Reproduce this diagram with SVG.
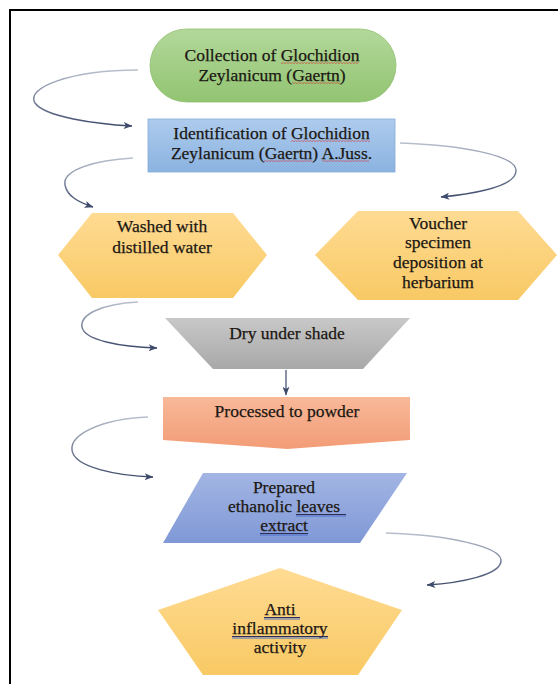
<svg xmlns="http://www.w3.org/2000/svg" width="558" height="684" viewBox="0 0 558 684">
<defs>
  <linearGradient id="gGreen" x1="0" y1="0" x2="0" y2="1"><stop offset="0" stop-color="#b3d89a"/><stop offset="1" stop-color="#92c472"/></linearGradient>
  <linearGradient id="gBlue" x1="0" y1="0" x2="0" y2="1"><stop offset="0" stop-color="#adcbed"/><stop offset="1" stop-color="#8bb3e0"/></linearGradient>
  <linearGradient id="gGold" x1="0" y1="0" x2="0" y2="1"><stop offset="0" stop-color="#ffdb93"/><stop offset="1" stop-color="#f8c964"/></linearGradient>
  <linearGradient id="gGray" x1="0" y1="0" x2="0" y2="1"><stop offset="0" stop-color="#c8c8c8"/><stop offset="1" stop-color="#a8a8a8"/></linearGradient>
  <linearGradient id="gSalmon" x1="0" y1="0" x2="0" y2="1"><stop offset="0" stop-color="#f8b999"/><stop offset="1" stop-color="#f29c76"/></linearGradient>
  <linearGradient id="gViolet" x1="0" y1="0" x2="0" y2="1"><stop offset="0" stop-color="#a2b5e3"/><stop offset="1" stop-color="#7f98d6"/></linearGradient>
  <linearGradient id="cg" x1="0" y1="0" x2="0" y2="1"><stop offset="0" stop-color="#b8bfcc"/><stop offset="0.5" stop-color="#7a849c"/><stop offset="1" stop-color="#3f4b6b"/></linearGradient>
  <marker id="ah" viewBox="0 0 10 8" refX="9.5" refY="4" markerWidth="9" markerHeight="7" markerUnits="userSpaceOnUse" orient="auto">
    <path d="M0,0 L10,4 L0,8 L2.5,4 z" fill="#3f4b6b"/>
  </marker>
  <pattern id="wave" patternUnits="userSpaceOnUse" width="3" height="2">
    <path d="M0,1.7 L1.5,0.3 L3,1.7" fill="none" stroke="#d42a2a" stroke-width="0.6"/>
  </pattern>
</defs>
<style>
  text{font-family:"Liberation Serif","Times New Roman",serif;font-size:17.5px;fill:#1c1713;stroke:#1c1713;stroke-width:0.25;text-anchor:middle}
  .conn path{fill:none;stroke:url(#cg);stroke-width:1.5;marker-end:url(#ah)}
  .conn line{stroke:#4b5778;stroke-width:1.3;marker-end:url(#ah)}
  .wv{fill:url(#wave)}
  .ul1{stroke:#2d2d55;stroke-width:1}
  .ul2{stroke:#4a6fc8;stroke-width:1}
</style>

<rect x="0" y="0" width="558" height="684" fill="#ffffff"/>
<rect x="10" y="10" width="580" height="720" fill="none" stroke="#000" stroke-width="2"/>

<g id="connectors" class="conn">
  <path d="M138,70 C70,70 25,88 35,103 C45,117 95,124 132,126"/>
  <path d="M133,158 C95,160 62,170 65,185 C67,196 78,202 93,207"/>
  <path d="M400,143 C460,145 515,155 516,170 C517,185 480,193 441,197"/>
  <path d="M138,302 C100,304 80,315 82,327 C84,340 120,347 157,348"/>
  <line x1="286" y1="370" x2="286" y2="395"/>
  <path d="M148,417 C100,419 70,435 72,450 C74,468 120,476 153,477"/>
  <path d="M386,533 C450,535 500,547 501,560 C502,575 460,583 427,585"/>
</g>

<g id="collection">
  <rect x="150" y="29" width="246" height="73" rx="36.5" fill="url(#gGreen)" stroke="#8fbf70" stroke-width="0.8"/>
  <text x="272" y="61">Collection of Glochidion</text>
  <text x="272" y="81">Zeylanicum (Gaertn)</text>
  <rect class="wv" x="281" y="62" width="78" height="2"/>
  <rect class="wv" x="292" y="82" width="48" height="2"/>
</g>

<g id="identification">
  <rect x="148" y="119" width="247" height="53" fill="url(#gBlue)" stroke="#86acd8" stroke-width="0.8"/>
  <text x="271.5" y="139">Identification of Glochidion</text>
  <text x="271.5" y="159">Zeylanicum (Gaertn) A.Juss.</text>
  <rect class="wv" x="291" y="140" width="79" height="2"/>
  <rect class="wv" x="264" y="160" width="48" height="2"/>
  <rect class="wv" x="322" y="160" width="47" height="2"/>
</g>

<g id="washed">
  <polygon points="58,255 92,213 233,213 267,255 233,298 92,298" fill="url(#gGold)"/>
  <text x="162" y="232">Washed with</text>
  <text x="162" y="253">distilled water</text>
</g>

<g id="voucher">
  <polygon points="315,255 358,211 518,211 557,255 518,300 358,300" fill="url(#gGold)"/>
  <text x="438" y="229">Voucher</text>
  <text x="438" y="248">specimen</text>
  <text x="438" y="268">deposition at</text>
  <text x="438" y="288">herbarium</text>
</g>

<g id="dry">
  <polygon points="165,318 410,318 363,369 213,369" fill="url(#gGray)"/>
  <text x="287" y="339">Dry under shade</text>
</g>

<g id="powder">
  <polygon points="163,397 410,397 410,440 287,449 163,440" fill="url(#gSalmon)"/>
  <text x="287" y="417">Processed to powder</text>
</g>

<g id="extract">
  <polygon points="203,473 407,473 360,543 163,543" fill="url(#gViolet)"/>
  <text x="284" y="493">Prepared</text>
  <text x="284" y="512">ethanolic leaves</text>
  <text x="284" y="531">extract</text>
  <line class="ul1" x1="296" y1="514.5" x2="346" y2="514.5"/>
  <line class="ul2" x1="296" y1="516" x2="346" y2="516"/>
  <line class="ul1" x1="260" y1="533.5" x2="308" y2="533.5"/>
  <line class="ul2" x1="260" y1="535" x2="308" y2="535"/>
</g>

<g id="activity">
  <polygon points="280,568 402,610 358,675 203,675 158,610" fill="url(#gGold)"/>
  <text x="280" y="615">Anti</text>
  <text x="280" y="634">inflammatory</text>
  <text x="280" y="653">activity</text>
  <line class="ul1" x1="264" y1="617.5" x2="300" y2="617.5"/>
  <line class="ul2" x1="264" y1="619" x2="300" y2="619"/>
  <line class="ul1" x1="232" y1="636.5" x2="328" y2="636.5"/>
  <line class="ul2" x1="232" y1="638" x2="328" y2="638"/>
</g>
</svg>
